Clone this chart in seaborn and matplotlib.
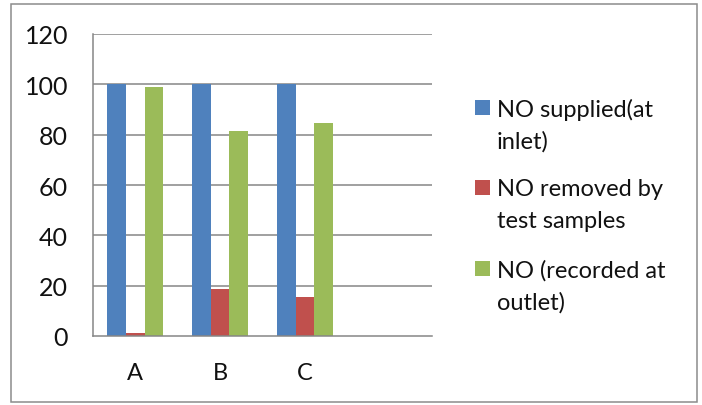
import matplotlib
matplotlib.use("Agg")
import matplotlib.pyplot as plt
import matplotlib.patches as mpatches
import seaborn as sns
import pandas as pd

categories = ["A", "B", "C", " "]
series = ["NO supplied(at\ninlet)", "NO removed by\ntest samples", "NO (recorded at\noutlet)"]
supplied = [100, 100, 100]
removed = [1.1, 18.7, 15.4]
recorded = [98.8, 81.4, 84.6]
colors = ["#4F81BD", "#C0504D", "#9BBB59"]
yticks = [0, 20, 40, 60, 80, 100, 120]

rows = []
for name, vals in zip(series, [supplied, removed, recorded]):
    for cat, v in zip(categories[:3], vals):
        rows.append({"cat": cat, "series": name, "value": v})
df = pd.DataFrame(rows)

sns.set_style("white")
plt.rcParams["font.family"] = ["Lato", "DejaVu Sans"]

W, H = 702, 406
fig = plt.figure(figsize=(W / 100, H / 100), dpi=100)
ax = fig.add_axes([93 / W, (H - 337) / H, (432 - 93) / W, (337 - 35) / H])

sns.barplot(data=df, x="cat", y="value", hue="series", order=categories,
            hue_order=series, palette=colors, width=0.66, saturation=1,
            linewidth=0, ax=ax, legend=False)

grid_c = "#868686"
ax.set_xlim(-0.5, 3.5)
ax.set_ylim(0, 120)
ax.set_yticks(yticks)
ax.set_yticklabels([str(t) for t in yticks])
for t in yticks[1:]:
    ax.axhline(t, color=grid_c, lw=1.1, zorder=0)
ax.set_axisbelow(True)

for s in ["top", "right"]:
    ax.spines[s].set_visible(False)
for s in ["left", "bottom"]:
    ax.spines[s].set_color(grid_c)
    ax.spines[s].set_linewidth(1.1)

ax.set_xticks([0, 1, 2, 3])
ax.set_xticklabels(categories)
ax.set_xticks([-0.5, 0.5, 1.5, 2.5, 3.5], minor=True)
ax.tick_params(axis="x", which="major", length=0, pad=19, labelsize=17, labelcolor="#111111")
ax.tick_params(axis="x", which="minor", length=6, width=1.1, color=grid_c, direction="out")
ax.tick_params(axis="y", length=6, width=1.1, color=grid_c, direction="out", pad=12,
               labelsize=18, labelcolor="#111111")
ax.set_xlabel("")
ax.set_ylabel("")

# legend: square key beside the first line of each two-line label
line_y = [(108, 140), (188, 220), (269, 301)]
for c, s, (y1, y2) in zip(colors, series, line_y):
    fig.patches.append(mpatches.Rectangle((475 / W, (H - y1 - 7.5) / H), 15 / W, 15 / H,
                                          transform=fig.transFigure, facecolor=c,
                                          edgecolor="none"))
    for part, yy in zip(s.split("\n"), (y1, y2)):
        fig.text(497 / W, (H - yy) / H, part, ha="left", va="center_baseline",
                 fontsize=17, color="#111111", transform=fig.transFigure)

border = mpatches.Rectangle((11 / W, (H - 403) / H), (697 - 11) / W, (403 - 5) / H,
                            transform=fig.transFigure, fill=False,
                            edgecolor="#8c8c8c", lw=1.1)
fig.patches.append(border)

fig.savefig("out.png", dpi=100)
